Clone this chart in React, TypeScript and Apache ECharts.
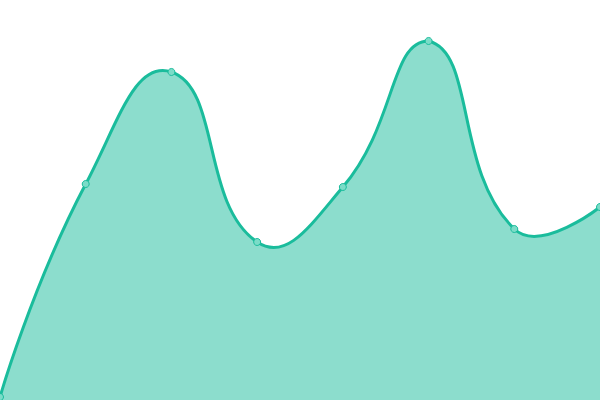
import React from 'react';
import * as echarts from 'echarts';

const categories = ['1', '2', '3', '4', '5', '6', '7', '8'];
const values = [3, 216, 328, 158, 213, 359, 171, 193];

const LINE = '#1abc9c';
const SMOOTH = 0.5;

type Pt = number[];

// bezier control points, kept inside the bounding box of all points (overshoot allowed between them)
function curvePath(pts: Pt[]): string {
  const minY = Math.min(...pts.map(p => p[1]));
  const maxY = Math.max(...pts.map(p => p[1]));
  const minX = pts[0][0];
  const maxX = pts[pts.length - 1][0];
  const clampPt = (p: Pt) => [
    Math.min(maxX, Math.max(minX, p[0])),
    Math.min(maxY, Math.max(minY, p[1]))
  ];
  const before: Pt[] = [];
  const after: Pt[] = [];
  pts.forEach((p, i) => {
    if (i === 0 || i === pts.length - 1) {
      before.push(p);
      after.push(p);
      return;
    }
    const prev = pts[i - 1];
    const next = pts[i + 1];
    const vx = next[0] - prev[0];
    const vy = next[1] - prev[1];
    const d0 = Math.hypot(p[0] - prev[0], p[1] - prev[1]);
    const d1 = Math.hypot(next[0] - p[0], next[1] - p[1]);
    const r = d1 / (d0 + d1);
    before.push(clampPt([p[0] - vx * SMOOTH * (1 - r), p[1] - vy * SMOOTH * (1 - r)]));
    after.push(clampPt([p[0] + vx * SMOOTH * r, p[1] + vy * SMOOTH * r]));
  });
  let d = `M${pts[0][0]} ${pts[0][1]}`;
  for (let i = 1; i < pts.length; i++) {
    const c0 = after[i - 1];
    const c1 = before[i];
    d += ` C${c0[0]} ${c0[1]} ${c1[0]} ${c1[1]} ${pts[i][0]} ${pts[i][1]}`;
  }
  return d;
}

const App: React.FC = () => {
  const chartRef = React.useRef<HTMLDivElement>(null);

  React.useEffect(() => {
    if (!chartRef.current) return;
    document.body.style.margin = '0';
    const chart = echarts.init(chartRef.current, undefined, { renderer: 'svg' });

    chart.setOption({
      animation: false,
      grid: { top: 0, bottom: 0, left: 0, right: 0 },
      xAxis: {
        show: false,
        type: 'category',
        boundaryGap: false,
        data: categories
      },
      yAxis: {
        show: false,
        type: 'value',
        min: 0,
        max: 400
      },
      series: [
        {
          type: 'custom',
          data: values.map((v, i) => [i, v]),
          silent: true,
          renderItem: (params: any, api: any) => {
            if (params.dataIndex !== 0) return null;
            const pts = values.map((v, i) => api.coord([i, v]));
            const base = api.coord([0, 0])[1];
            const line = curvePath(pts);
            const last = pts[pts.length - 1];
            const area = `${line} L${last[0]} ${base} L${pts[0][0]} ${base} Z`;
            return {
              type: 'group',
              children: [
                {
                  type: 'path',
                  shape: { pathData: area },
                  style: { fill: LINE, opacity: 0.5, stroke: null }
                },
                {
                  type: 'path',
                  shape: { pathData: line },
                  style: { fill: null, stroke: LINE, lineWidth: 3 }
                }
              ]
            };
          }
        },
        {
          type: 'scatter',
          data: values,
          symbol: 'circle',
          symbolSize: 7,
          z: 5,
          itemStyle: {
            color: '#7bdcc8',
            borderColor: LINE,
            borderWidth: 1,
            opacity: 1
          }
        }
      ]
    });

    return () => {
      chart.dispose();
    };
  }, []);

  return (
    <div
      ref={chartRef}
      style={{ position: 'absolute', left: 0, top: 0, width: '600px', height: '400px' }}
    />
  );
};

export default App;
